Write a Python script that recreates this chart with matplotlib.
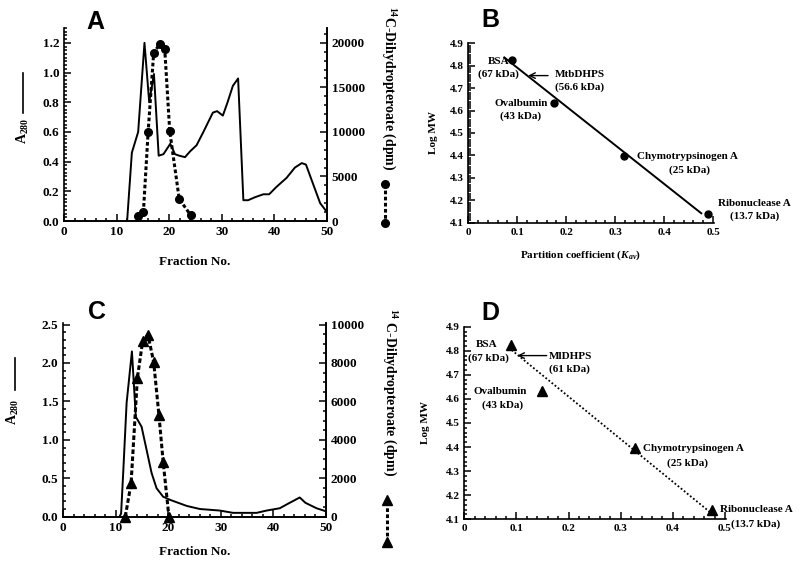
import numpy as np
import matplotlib
matplotlib.use("Agg")
import matplotlib.pyplot as plt
from matplotlib.ticker import MultipleLocator, FuncFormatter
from matplotlib.lines import Line2D

plt.rcParams['font.family'] = ['Liberation Serif', 'DejaVu Serif']
plt.rcParams['font.weight'] = 'bold'
plt.rcParams['mathtext.fontset'] = 'custom'
plt.rcParams['mathtext.rm'] = 'Liberation Serif:bold'
plt.rcParams['mathtext.it'] = 'Liberation Serif:italic:bold'
plt.rcParams['mathtext.bf'] = 'Liberation Serif:bold'

# ---------------- data ----------------
# Panel A : M. tuberculosis DHPS gel filtration
A_frac = [12, 12.9, 14.1, 15.3, 16.2, 17.1, 18.0, 18.9, 20.2, 21.1, 21.9, 23.0, 24.0,
          25.2, 26.5, 28.3, 29.1, 30.2, 31.1, 32.1, 33.1, 34.1, 35.0, 36.3, 37.9,
          39.0, 40.4, 42.3, 43.9, 45.2, 46.0, 47.4, 48.7, 50.0]
A_a280 = [0.0, 0.46, 0.60, 1.20, 0.80, 0.99, 0.44, 0.45, 0.52, 0.45, 0.44, 0.43, 0.47,
          0.51, 0.60, 0.73, 0.74, 0.71, 0.80, 0.91, 0.96, 0.14, 0.14, 0.16, 0.18,
          0.18, 0.23, 0.29, 0.36, 0.39, 0.38, 0.245, 0.12, 0.06]
A_dot_frac = [14.0, 15.1, 16.0, 17.05, 18.25, 19.15, 20.1, 21.9, 24.05]
A_dpm = [560, 1060, 10040, 18870, 19900, 19320, 10110, 2480, 680]

# Panel C : M. leprae DHPS gel filtration
C_frac = [10.7, 11.0, 11.4, 12.05, 13.06, 13.8, 14.9, 15.85, 16.8, 17.75, 19.0, 20.3,
          23.5, 26.0, 29.8, 32.3, 36.8, 38.7, 41.2, 42.8, 45.0, 46.1, 48.2, 50.0]
C_a280 = [0.0, 0.04, 0.57, 1.48, 2.15, 1.30, 1.17, 0.87, 0.57, 0.37, 0.26, 0.22,
          0.14, 0.10, 0.08, 0.05, 0.05, 0.08, 0.11, 0.17, 0.25, 0.18, 0.11, 0.07]
C_tri_frac = [11.8, 12.9, 14.1, 15.1, 16.1, 17.2, 18.2, 19.0, 20.1]
C_dpm = [0, 1740, 7220, 9130, 9480, 8050, 5300, 2870, 0]

# Panel B / D : calibration
standards = ['BSA', 'Ovalbumin', 'Chymotrypsinogen A', 'Ribonuclease A']
std_kda = ['67 kDa', '43 kDa', '25 kDa', '13.7 kDa']
std_logmw = [4.826, 4.633, 4.398, 4.137]
B_kav = [0.0885, 0.175, 0.318, 0.49]
B_fit_kav = [0.0735, 0.476]
B_fit_logmw = [4.837, 4.142]
B_enzyme = ('MtbDHPS', '56.6 kDa', 0.1224, 4.756)
D_kav = [0.0895, 0.1496, 0.328, 0.4757]
D_fit_kav = [0.0908, 0.4757]
D_fit_logmw = [4.803, 4.122]
D_enzyme = ('MlDHPS', '61 kDa', 0.1017, 4.780)

W, H = 800, 566
fig = plt.figure(figsize=(8.0, 5.66), dpi=100)


def fx(px):
    return px / W


def fy(py):
    return 1 - py / H


def rect(l, r, b, t):
    return [fx(l), fy(b), fx(r) - fx(l), fy(t) - fy(b)]


TICK_FS = 9.5
SMALL_FS = 8


def style_axis(ax, right=False):
    for s in ['top']:
        ax.spines[s].set_visible(False)
    if not right:
        ax.spines['right'].set_visible(False)
    for s in ax.spines.values():
        s.set_linewidth(1.2)
    ax.tick_params(which='both', direction='in', width=1.1)
    ax.tick_params(which='major', length=5)
    ax.tick_params(which='minor', length=2.5)


# ---------------- Panel A ----------------
axA = fig.add_axes(rect(64, 327, 221, 28))
axA.plot(A_frac, A_a280, color='black', lw=1.4)
axA.set_xlim(0, 50)
axA.set_ylim(0, 1.3)
axA.xaxis.set_major_locator(MultipleLocator(10))
axA.xaxis.set_minor_locator(MultipleLocator(2))
axA.set_yticks([0, 0.2, 0.4, 0.6, 0.8, 1.0, 1.2])
axA.yaxis.set_minor_locator(MultipleLocator(0.025))
axA.yaxis.set_major_formatter(FuncFormatter(lambda v, p: f"{v:.1f}"))
style_axis(axA, right=True)
axA.tick_params(labelsize=TICK_FS)
axA2 = axA.twinx()
axA2.plot(A_dot_frac, A_dpm, color='black', lw=2.2, ls=(0, (1.2, 0.8)),
          marker='o', ms=5.5, mfc='black', mec='black')
axA2.set_ylim(0, 1.3 / 1.2 * 20000)
axA2.set_yticks([0, 5000, 10000, 15000, 20000])
axA2.yaxis.set_minor_locator(MultipleLocator(1000))
style_axis(axA2, right=True)
axA2.spines['left'].set_visible(False)
axA2.tick_params(labelsize=TICK_FS)

# ---------------- Panel C ----------------
axC = fig.add_axes(rect(63.3, 326, 516.7, 323))
axC.plot(C_frac, C_a280, color='black', lw=1.4)
axC.set_xlim(0, 50)
axC.set_ylim(0, 2.52)
axC.xaxis.set_major_locator(MultipleLocator(10))
axC.xaxis.set_minor_locator(MultipleLocator(2))
axC.set_yticks([0, 0.5, 1.0, 1.5, 2.0, 2.5])
axC.yaxis.set_minor_locator(MultipleLocator(0.1))
axC.yaxis.set_major_formatter(FuncFormatter(lambda v, p: f"{v:.1f}"))
style_axis(axC, right=True)
axC.tick_params(labelsize=TICK_FS)
axC2 = axC.twinx()
axC2.plot(C_tri_frac, C_dpm, color='black', lw=2.2, ls=(0, (1.5, 0.8)),
          marker='^', ms=7, mfc='black', mec='black', clip_on=False)
axC2.set_ylim(0, 2.52 / 2.5 * 10000)
axC2.set_yticks([0, 2000, 4000, 6000, 8000, 10000])
axC2.yaxis.set_minor_locator(MultipleLocator(500))
style_axis(axC2, right=True)
axC2.spines['left'].set_visible(False)
axC2.tick_params(labelsize=TICK_FS)

# ---------------- Panel B ----------------
axB = fig.add_axes(rect(468.3, 714, 222.7, 43.3))
axB.plot(B_fit_kav, B_fit_logmw, color='black', lw=1.4)
axB.plot(B_kav, std_logmw, 'o', color='black', ms=5)
axB.set_xlim(0, 0.502)
axB.set_ylim(4.1, 4.9)
axB.xaxis.set_major_locator(MultipleLocator(0.1))
axB.xaxis.set_minor_locator(MultipleLocator(0.02))
axB.yaxis.set_major_locator(MultipleLocator(0.1))
axB.yaxis.set_minor_locator(MultipleLocator(0.01))
axB.xaxis.set_major_formatter(FuncFormatter(lambda v, p: "0" if abs(v) < 1e-9 else f"{v:.1f}"))
axB.yaxis.set_major_formatter(FuncFormatter(lambda v, p: f"{v:.1f}"))
style_axis(axB)
axB.tick_params(labelsize=SMALL_FS)
B_lab = [(0.061, 4.818, 4.763), (0.109, 4.632, 4.577), (0.447, 4.397, 4.332), (0.585, 4.186, 4.130)]
B_lab_x2 = [0.061, 0.107, 0.451, 0.585]
for i, (lx, ly1, ly2) in enumerate(B_lab):
    axB.text(lx, ly1, standards[i], ha='center', va='center', fontsize=SMALL_FS, clip_on=False)
    axB.text(B_lab_x2[i], ly2, f"({std_kda[i]})", ha='center', va='center', fontsize=SMALL_FS,
             clip_on=False)
axB.annotate('', xy=(B_enzyme[2], B_enzyme[3]), xytext=(0.163, B_enzyme[3]),
             arrowprops=dict(arrowstyle='->', lw=1.0, color='black', shrinkA=0, shrinkB=0))
axB.text(0.228, 4.759, B_enzyme[0], ha='center', va='center', fontsize=SMALL_FS)
axB.text(0.228, 4.704, f"({B_enzyme[1]})", ha='center', va='center', fontsize=SMALL_FS)

# ---------------- Panel D ----------------
axD = fig.add_axes(rect(464.3, 726, 519.3, 326.7))
axD.plot(D_fit_kav, D_fit_logmw, color='black', lw=1.3, ls=(0, (1, 1.2)))
axD.plot(D_kav, std_logmw, '^', color='black', ms=6.5, clip_on=False)
axD.set_xlim(0, 0.502)
axD.set_ylim(4.1, 4.9)
axD.xaxis.set_major_locator(MultipleLocator(0.1))
axD.xaxis.set_minor_locator(MultipleLocator(0.02))
axD.yaxis.set_major_locator(MultipleLocator(0.1))
axD.yaxis.set_minor_locator(MultipleLocator(0.02))
axD.xaxis.set_major_formatter(FuncFormatter(lambda v, p: "0" if abs(v) < 1e-9 else f"{v:.1f}"))
axD.yaxis.set_major_formatter(FuncFormatter(lambda v, p: f"{v:.1f}"))
style_axis(axD)
axD.tick_params(labelsize=SMALL_FS)
D_lab = [(0.042, 4.828, 0.046, 4.768), (0.068, 4.630, 0.0735, 4.575),
         (0.439, 4.395, 0.428, 4.335), (0.5595, 4.139, 0.5595, 4.079)]
for i, (x1, y1, x2, y2) in enumerate(D_lab):
    axD.text(x1, y1, standards[i], ha='center', va='center', fontsize=SMALL_FS, clip_on=False)
    axD.text(x2, y2, f"({std_kda[i]})", ha='center', va='center', fontsize=SMALL_FS, clip_on=False)
axD.annotate('', xy=(D_enzyme[2], D_enzyme[3]), xytext=(0.158, D_enzyme[3]),
             arrowprops=dict(arrowstyle='->', lw=1.0, color='black', shrinkA=0, shrinkB=0))
axD.text(0.2046, 4.778, D_enzyme[0], ha='center', va='center', fontsize=SMALL_FS)
axD.text(0.2014, 4.723, f"({D_enzyme[1]})", ha='center', va='center', fontsize=SMALL_FS)

# ---------------- figure texts ----------------
LAB_FS = 10
fig.text(fx(195), fy(262), 'Fraction No.', ha='center', va='center', fontsize=9.5)
fig.text(fx(195), fy(551.7), 'Fraction No.', ha='center', va='center', fontsize=9.5)
fig.text(fx(580), fy(255), r'Partition coefficient ($K_{av}$)', ha='center', va='center',
         fontsize=SMALL_FS)
fig.text(fx(433), fy(133), 'Log MW', ha='center', va='center', rotation=90, fontsize=SMALL_FS)
fig.text(fx(425), fy(423), 'Log MW', ha='center', va='center', rotation=90, fontsize=SMALL_FS)

# right axis labels with keys
fig.text(fx(388), fy(88), r'$^{14}$C-Dihydropteroate (dpm)', ha='center', va='center',
         rotation=270, fontsize=LAB_FS)
fig.add_artist(Line2D([fx(385), fx(385)], [fy(184), fy(223)], color='black', lw=2.2,
                      ls=(0, (1.2, 0.8)), marker='o', ms=5.5, transform=fig.transFigure))
fig.text(fx(389), fy(392), r'$^{14}$ C-Dihydropteroate (dpm)', ha='center', va='center',
         rotation=270, fontsize=LAB_FS)
fig.add_artist(Line2D([fx(387), fx(387)], [fy(542), fy(500)], color='black', lw=2.2,
                      ls=(0, (1.2, 0.8)), marker='^', ms=7, transform=fig.transFigure))

# left A280 labels with keys
fig.text(fx(23), fy(131), r'A$_{280}$', ha='center', va='center', rotation=90, fontsize=LAB_FS)
fig.add_artist(Line2D([fx(23.3), fx(23.3)], [fy(73), fy(113)], color='black', lw=1.2,
                      transform=fig.transFigure))
fig.text(fx(13), fy(412), r'A$_{280}$', ha='center', va='center', rotation=90, fontsize=LAB_FS)
fig.add_artist(Line2D([fx(15), fx(15)], [fy(358), fy(390)], color='black', lw=1.2,
                      transform=fig.transFigure))

# panel letters
for lbl, px, py in [('A', 95, 22), ('B', 490, 20), ('C', 97, 312), ('D', 490, 313)]:
    fig.text(fx(px), fy(py), lbl, ha='center', va='center', fontsize=18,
             fontweight='bold', family=['Liberation Sans', 'DejaVu Sans'])

fig.savefig('out.png', dpi=100)
